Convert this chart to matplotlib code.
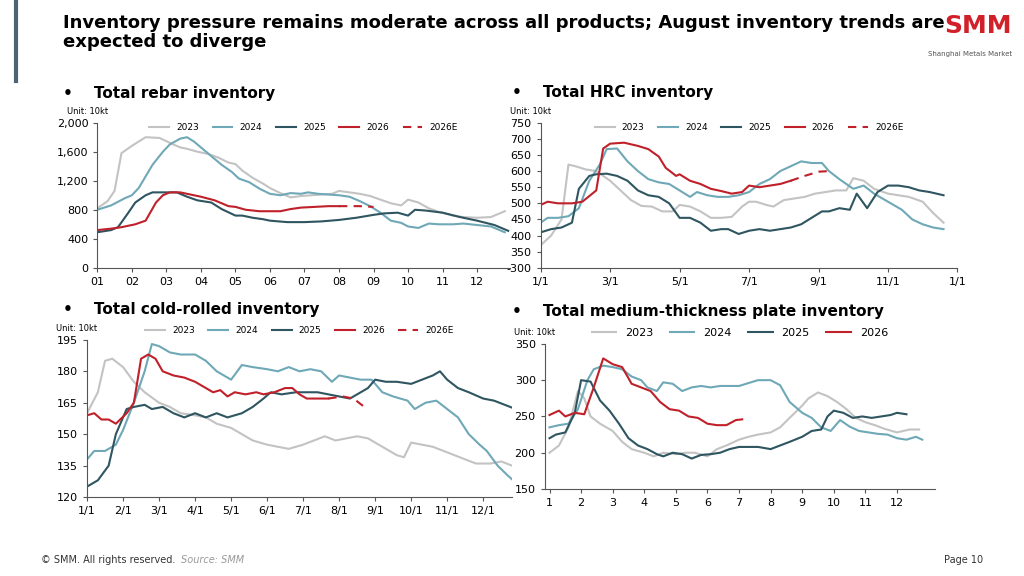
import numpy as np
from matplotlib import pyplot as plt

# each series: list of (month position, value)
rebar_2023 = [(0,820),(.3,920),(.5,1060),(.7,1580),(1,1680),(1.4,1800),(1.8,1790),(2.2,1700),(2.4,1660),(2.6,1640),(2.9,1600),(3.2,1570),(3.5,1520),(3.8,1450),(4,1430),(4.2,1340),(4.5,1240),(4.8,1160),(5,1100),(5.3,1030),(5.6,970),(5.9,990),(6.2,1000),(6.5,1010),(6.8,1020),(7,1060),(7.3,1040),(7.6,1020),(7.9,990),(8.2,940),(8.5,890),(8.8,860),(9,940),(9.3,900),(9.6,820),(9.9,770),(10.3,720),(10.6,700),(11,690),(11.4,700),(11.8,780)]
rebar_2024 = [(0,800),(.4,860),(.8,960),(1,1000),(1.2,1100),(1.4,1260),(1.6,1420),(1.9,1600),(2.1,1700),(2.4,1780),(2.6,1800),(2.8,1740),(3,1660),(3.3,1540),(3.6,1420),(3.9,1320),(4.1,1230),(4.4,1180),(4.7,1090),(5,1020),(5.3,1000),(5.6,1030),(5.9,1020),(6.1,1040),(6.4,1020),(6.7,1010),(7,1000),(7.3,980),(7.6,920),(7.9,850),(8.2,760),(8.5,650),(8.8,620),(9,570),(9.3,550),(9.6,610),(9.9,600),(10.3,600),(10.6,610),(11,590),(11.4,570),(11.8,490)]
rebar_2025 = [(0,490),(.4,520),(.6,560),(.9,760),(1.1,900),(1.4,1000),(1.6,1040),(2,1040),(2.3,1040),(2.6,980),(2.9,930),(3.3,900),(3.6,810),(4,720),(4.2,720),(4.5,690),(4.8,670),(5,650),(5.5,630),(6,630),(6.5,640),(7,660),(7.5,690),(8,730),(8.3,750),(8.7,760),(9,720),(9.2,800),(9.5,790),(10,760),(10.5,700),(11,650),(11.5,590),(11.9,510)]
rebar_2026 = [(0,520),(.4,540),(.7,560),(1.1,600),(1.4,650),(1.7,900),(1.9,1000),(2.1,1040),(2.4,1040),(2.7,1010),(3,980),(3.4,930),(3.8,850),(4,840),(4.3,800),(4.7,780),(5,780),(5.3,780),(5.6,810),(5.9,830),(6.3,840),(6.7,850),(7,850)]
rebar_2026e = [(7,850),(7.6,850),(8,840)]

hrc_2023 = [(0,370),(.3,400),(.6,450),(.8,620),(1,615),(1.3,605),(1.6,600),(2,570),(2.3,540),(2.6,510),(2.9,492),(3.2,490),(3.5,475),(3.8,475),(4,495),(4.3,490),(4.6,475),(4.9,455),(5.2,455),(5.5,458),(5.8,490),(6,505),(6.2,505),(6.5,495),(6.7,490),(7,510),(7.3,515),(7.6,520),(7.9,530),(8.2,535),(8.5,540),(8.8,540),(9,578),(9.3,570),(9.6,545),(10,530),(10.3,525),(10.6,520),(11,505),(11.3,470),(11.6,440)]
hrc_2024 = [(0,440),(.2,455),(.5,455),(.8,460),(1.1,485),(1.4,570),(1.7,620),(1.9,668),(2.2,670),(2.5,630),(2.8,600),(3.1,575),(3.4,565),(3.7,560),(4,540),(4.3,520),(4.5,535),(4.8,525),(5.1,520),(5.4,520),(5.7,525),(6,535),(6.3,560),(6.6,575),(6.9,600),(7.2,615),(7.5,630),(7.8,625),(8.1,625),(8.3,600),(8.6,575),(9,545),(9.3,555),(9.6,530),(10,505),(10.4,480),(10.7,450),(11,435),(11.3,425),(11.6,420)]
hrc_2025 = [(0,410),(.3,420),(.6,425),(.9,440),(1.1,545),(1.4,585),(1.6,590),(1.9,592),(2.2,585),(2.5,570),(2.8,540),(3.1,525),(3.4,520),(3.7,500),(4,455),(4.3,455),(4.6,440),(4.9,415),(5.2,420),(5.4,420),(5.7,405),(6,415),(6.3,420),(6.6,415),(6.9,420),(7.2,425),(7.5,435),(7.8,455),(8.1,475),(8.3,475),(8.6,485),(8.9,480),(9.1,530),(9.4,485),(9.7,535),(10,555),(10.3,555),(10.6,550),(10.9,540),(11.2,535),(11.6,525)]
hrc_2026 = [(0,495),(.2,505),(.5,500),(.9,500),(1.2,505),(1.6,540),(1.8,670),(2,685),(2.4,688),(2.8,678),(3.1,668),(3.4,645),(3.6,610),(3.9,585),(4,590),(4.3,570),(4.6,560),(4.9,545),(5.2,538),(5.5,530),(5.8,535),(6,555),(6.3,550),(6.6,555),(6.9,560),(7.2,570)]
hrc_2026e = [(7.2,570),(7.6,585),(8,598),(8.3,600)]

cold_2023 = [(0,160),(.3,170),(.5,185),(.7,186),(1,182),(1.3,175),(1.6,170),(2,165),(2.3,163),(2.6,160),(3,159),(3.3,158),(3.6,155),(4,153),(4.3,150),(4.6,147),(5,145),(5.3,144),(5.6,143),(6,145),(6.3,147),(6.6,149),(6.9,147),(7.2,148),(7.5,149),(7.8,148),(8.1,145),(8.4,142),(8.6,140),(8.8,139),(9,146),(9.3,145),(9.6,144),(9.9,142),(10.2,140),(10.5,138),(10.8,136),(11.2,136),(11.5,137),(11.8,135)]
cold_2024 = [(0,138),(.2,142),(.5,142),(.8,145),(1,152),(1.3,165),(1.6,180),(1.8,193),(2,192),(2.3,189),(2.6,188),(3,188),(3.3,185),(3.6,180),(4,176),(4.3,183),(4.6,182),(5,181),(5.3,180),(5.6,182),(5.9,180),(6.2,181),(6.5,180),(6.8,175),(7,178),(7.3,177),(7.6,176),(7.9,176),(8.2,170),(8.5,168),(8.9,166),(9.1,162),(9.4,165),(9.7,166),(10,162),(10.3,158),(10.6,150),(10.9,145),(11.1,142),(11.4,135),(11.7,130),(11.9,127)]
cold_2025 = [(0,125),(.3,128),(.6,135),(.8,150),(1.1,162),(1.3,163),(1.6,164),(1.8,162),(2.1,163),(2.4,160),(2.7,158),(3,160),(3.3,158),(3.6,160),(3.9,158),(4.3,160),(4.6,163),(4.9,167),(5.1,170),(5.4,169),(5.8,170),(6.1,170),(6.4,170),(6.7,169),(7,168),(7.3,167),(7.6,170),(7.8,172),(8,176),(8.3,175),(8.6,175),(9,174),(9.3,176),(9.6,178),(9.8,180),(10,176),(10.3,172),(10.6,170),(11,167),(11.3,166),(11.6,164),(11.9,162)]
cold_2026 = [(0,159),(.2,160),(.4,157),(.6,157),(.8,155),(1.1,160),(1.3,165),(1.5,186),(1.7,188),(1.9,186),(2.1,180),(2.4,178),(2.7,177),(3,175),(3.3,172),(3.5,170),(3.7,171),(3.9,168),(4.1,170),(4.4,169),(4.7,170),(4.9,169),(5.2,170),(5.5,172),(5.7,172),(5.9,169),(6.1,167),(6.4,167),(6.7,167)]
cold_2026e = [(6.7,167),(7.1,168),(7.4,167),(7.7,163)]

plate_2023 = [(1,200),(1.3,210),(1.6,235),(1.9,285),(2.1,275),(2.3,250),(2.6,240),(3,230),(3.3,215),(3.6,205),(4,200),(4.3,195),(4.6,200),(5,198),(5.3,200),(5.6,200),(6,195),(6.3,205),(6.6,210),(7,218),(7.3,222),(7.6,225),(8,228),(8.3,235),(8.6,248),(9,265),(9.2,275),(9.5,283),(9.8,278),(10.1,270),(10.4,260),(10.7,248),(11,242),(11.3,238),(11.6,233),(12,228),(12.4,232),(12.7,232)]
plate_2024 = [(1,235),(1.3,238),(1.6,240),(1.9,260),(2.2,300),(2.4,315),(2.7,320),(3,318),(3.3,315),(3.6,305),(3.9,300),(4.1,290),(4.4,285),(4.6,297),(4.9,295),(5.2,285),(5.5,290),(5.8,292),(6.1,290),(6.4,292),(6.7,292),(7,292),(7.3,296),(7.6,300),(8,300),(8.3,293),(8.6,270),(9,255),(9.3,248),(9.6,235),(9.9,230),(10.2,245),(10.5,236),(10.8,230),(11.1,228),(11.4,226),(11.7,225),(12,220),(12.3,218),(12.6,222),(12.8,218)]
plate_2025 = [(1,220),(1.2,225),(1.5,228),(1.8,255),(2,300),(2.3,298),(2.6,272),(2.9,258),(3.2,240),(3.5,220),(3.8,210),(4.1,205),(4.4,198),(4.6,195),(4.9,200),(5.2,198),(5.5,192),(5.8,197),(6.1,198),(6.4,200),(6.7,205),(7,208),(7.3,208),(7.6,208),(8,205),(8.3,210),(8.6,215),(9,222),(9.3,230),(9.6,232),(9.8,250),(10,258),(10.3,255),(10.6,248),(10.9,250),(11.2,248),(11.5,250),(11.8,252),(12,255),(12.3,253)]
plate_2026 = [(1,252),(1.3,258),(1.5,250),(1.8,255),(2.1,253),(2.4,290),(2.7,330),(3,322),(3.3,318),(3.6,295),(3.9,290),(4.2,285),(4.5,270),(4.8,260),(5.1,258),(5.4,250),(5.7,248),(6,240),(6.3,238),(6.6,238),(6.9,245),(7.1,246)]

c23, c24, c25, c26 = '#c3c3c3', '#6fa8b6', '#2e5560', '#c0202a'

fig = plt.figure(figsize=(10.24, 5.76), dpi=100)
fig.patch.set_facecolor('white')

fig.text(0.062, 0.975, "Inventory pressure remains moderate across all products; August inventory trends are\nexpected to diverge",
         fontsize=13, fontweight='bold', va='top', linespacing=1.05)
fig.text(0.988, 0.975, "SMM", color='#d2202a', fontsize=18, fontweight='bold', ha='right', va='top')
fig.text(0.988, 0.912, "Shanghai Metals Market", color='#555555', fontsize=5, ha='right', va='top')
fig.add_artist(plt.Line2D([0.016, 0.016], [0.86, 1.0], color='#4a6670', lw=3))
fig.text(0.04, 0.022, "© SMM. All rights reserved.", fontsize=7, color='#333333')
fig.text(0.177, 0.022, "Source: SMM", fontsize=7, color='#999999', style='italic')
fig.text(0.96, 0.022, "Page 10", fontsize=7, color='#333333', ha='right')


def xy(s):
    a = np.array(s, dtype=float)
    return a[:, 0], a[:, 1]


def panel(rect, title, tpos, series, est, ylim, yticks, xticks, xlabels, xlim, fmt=None, legfs=6.5, legy=1.02):
    ax = fig.add_axes(rect)
    cols = [c23, c24, c25, c26]
    names = ['2023', '2024', '2025', '2026']
    for s, c, n in zip(series, cols, names):
        x, y = xy(s)
        ax.plot(x, y, color=c, lw=1.5, label=n)
    if est is not None:
        x, y = xy(est)
        ax.plot(x, y, color=c26, lw=1.5, ls=(0, (4, 3)), label='2026E')
    ax.set_ylim(ylim)
    ax.set_yticks(yticks)
    if fmt:
        ax.set_yticklabels([fmt(v) for v in yticks])
    ax.set_xlim(xlim)
    ax.set_xticks(xticks)
    ax.set_xticklabels(xlabels)
    for sp in ['top', 'right']:
        ax.spines[sp].set_visible(False)
    for sp in ['left', 'bottom']:
        ax.spines[sp].set_color('#555555')
    ax.tick_params(labelsize=8, direction='out', length=3, color='#555555')
    ax.legend(loc='lower center', bbox_to_anchor=(0.5, legy), ncol=5, frameon=False,
              fontsize=legfs, handlelength=2.2, columnspacing=1.5)
    fig.text(tpos[0], tpos[1], "•    " + title, fontsize=11, fontweight='bold')
    fig.text(rect[0] - 0.03, rect[1] + rect[3] + 0.015, "Unit: 10kt", fontsize=6)
    return ax


months2 = ["%02d" % m for m in range(1, 13)]
panel([0.095, 0.535, 0.403, 0.252], "Total rebar inventory", (0.062, 0.83),
      [rebar_2023, rebar_2024, rebar_2025, rebar_2026], rebar_2026e,
      (0, 2000), list(range(0, 2001, 400)), list(range(12)), months2, (0, 11.95),
      fmt=lambda v: f"{v:,}", legy=0.88)

ax2 = panel([0.528, 0.535, 0.407, 0.252], "Total HRC inventory", (0.5, 0.832),
            [hrc_2023, hrc_2024, hrc_2025, hrc_2026], hrc_2026e,
            (300, 750), list(range(300, 751, 50)), [0, 2, 4, 6, 8, 10, 12],
            ["1/1", "3/1", "5/1", "7/1", "9/1", "11/1", "1/1"], (0, 12), legy=0.88)
ax2.set_yticklabels(["-300"] + [str(v) for v in range(350, 751, 50)])

panel([0.085, 0.137, 0.415, 0.273], "Total cold-rolled inventory", (0.062, 0.455),
      [cold_2023, cold_2024, cold_2025, cold_2026], cold_2026e,
      (120, 195), list(range(120, 196, 15)), list(range(12)),
      ["%d/1" % m for m in range(1, 13)], (0, 11.8), legy=0.98)

panel([0.532, 0.151, 0.381, 0.252], "Total medium-thickness plate inventory", (0.5, 0.452),
      [plate_2023, plate_2024, plate_2025, plate_2026], None,
      (150, 350), list(range(150, 351, 50)), list(range(1, 13)),
      [str(m) for m in range(1, 13)], (0.85, 13.2), legfs=8, legy=0.97)

fig.savefig("out.png", dpi=100, facecolor='white')
